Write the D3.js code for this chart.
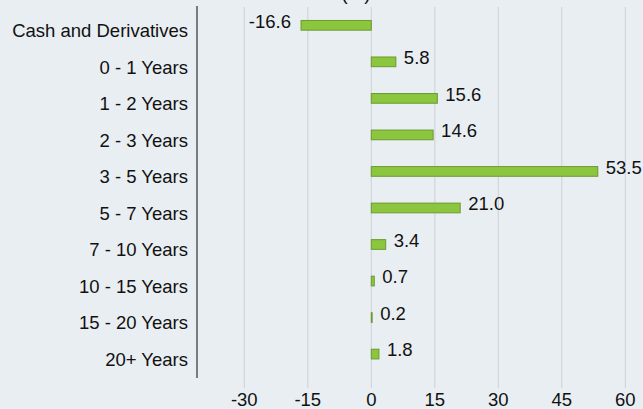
<!DOCTYPE html>
<html>
<head>
<meta charset="utf-8">
<script src="https://cdn.jsdelivr.net/npm/d3@7"></script>
<style>
  html, body { margin: 0; padding: 0; background: #e9eef2; }
  svg { display: block; }
</style>
</head>
<body>
<div id="chart"></div>
<script>
let width = 643
let height = 409
let fontFamily = "'Liberation Sans', Arial, sans-serif"

// data
let categories = ['Cash and Derivatives', '0 - 1 Years', '1 - 2 Years', '2 - 3 Years', '3 - 5 Years',
    '5 - 7 Years', '7 - 10 Years', '10 - 15 Years', '15 - 20 Years', '20+ Years']
let values = [-16.6, 5.8, 15.6, 14.6, 53.5, 21.0, 3.4, 0.7, 0.2, 1.8]
let ticks = [-30, -15, 0, 15, 30, 45, 60]
let title = '(%)'

let data = categories.map((c, i) => ({ name: c, value: values[i] }))

let svg = d3.select('#chart')
    .append('svg')
    .attr('width', width)
    .attr('height', height)
    .style('font-family', fontFamily)

let plot = { left: 197, top: 6, bottom: 378 }

let x = d3.scaleLinear()
    .domain([-30, 60])
    .range([244.3, 625.3])

let y = d3.scaleBand()
    .domain(categories)
    .range([12.4, 377.7])

// gridlines
svg.append('g')
    .selectAll('line')
    .data(ticks)
    .join('line')
    .attr('x1', d => x(d))
    .attr('x2', d => x(d))
    .attr('y1', plot.top + 1)
    .attr('y2', 388)
    .attr('stroke', '#cdd1d5')
    .attr('stroke-width', 1)

// tick labels
svg.append('g')
    .selectAll('text')
    .data(ticks)
    .join('text')
    .text(d => d)
    .attr('x', d => x(d))
    .attr('y', 405.5)
    .attr('text-anchor', 'middle')
    .attr('font-size', 18.5)
    .attr('fill', '#111')

// category axis line
svg.append('line')
    .attr('x1', plot.left)
    .attr('x2', plot.left)
    .attr('y1', plot.top)
    .attr('y2', plot.bottom)
    .attr('stroke', '#555')
    .attr('stroke-width', 1.5)

// category labels
svg.append('g')
    .selectAll('text')
    .data(categories)
    .join('text')
    .text(d => d)
    .attr('x', 188)
    .attr('y', d => y(d) + y.bandwidth() / 2 + 6.5)
    .attr('text-anchor', 'end')
    .attr('font-size', 18.5)
    .attr('fill', '#111')

// bars (sit in the upper half of each band)
svg.append('g')
    .selectAll('rect')
    .data(data)
    .join('rect')
    .attr('x', d => x(Math.min(0, d.value)))
    .attr('width', d => Math.abs(x(d.value) - x(0)))
    .attr('y', d => y(d.name) + y.bandwidth() / 2 - 10.2)
    .attr('height', 9.7)
    .attr('fill', '#8cc63e')
    .attr('stroke', '#6b9a30')
    .attr('stroke-width', 1)

// value labels
svg.append('g')
    .selectAll('text')
    .data(data)
    .join('text')
    .text(d => d.value.toFixed(1))
    .attr('x', d => d.value < 0 ? x(d.value) - 10 : x(d.value) + 8)
    .attr('y', d => y(d.name) + y.bandwidth() / 2 - 3)
    .attr('text-anchor', d => d.value < 0 ? 'end' : 'start')
    .attr('font-size', 18.5)
    .attr('fill', '#111')

// title, mostly cut off at the top
svg.append('text')
    .text(title)
    .attr('x', 356)
    .attr('y', -0.5)
    .attr('text-anchor', 'middle')
    .attr('font-size', 18.5)
    .attr('fill', '#111')
</script>
</body>
</html>
